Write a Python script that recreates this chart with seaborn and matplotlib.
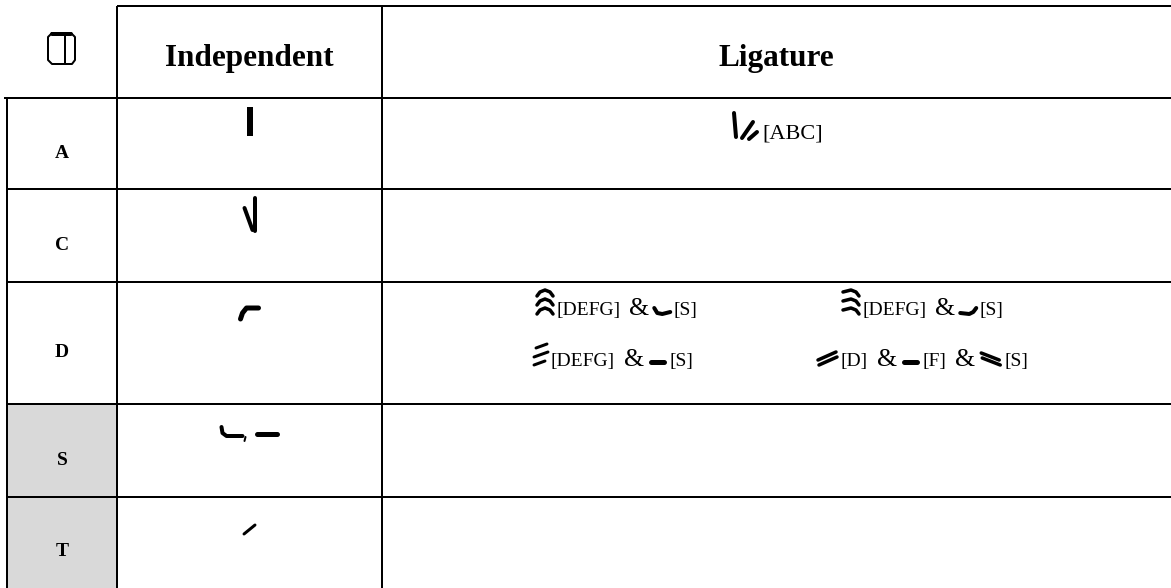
import matplotlib.pyplot as plt
import seaborn as sns

# ---- data -------------------------------------------------------------
HEADERS = ["Independent", "Ligature"]
ROW_LABELS = ["A", "C", "D", "S", "T"]
SHADED_ROWS = ["S", "T"]
INDEPENDENT = ["bar", "check", "hook", "curl_bar", "tick"]
LIGATURE_A = [("glyph", "vslash"), ("small_a", "[ABC]")]
LIGATURE_D = [
    [("glyph", "arcs3"), ("small", "[DEFG]"), ("amp", "&"), ("glyph", "smile"), ("small", "[S]")],
    [("glyph", "hooks3"), ("small", "[DEFG]"), ("amp", "&"), ("glyph", "rsmile"), ("small", "[S]")],
    [("glyph", "lines3"), ("small", "[DEFG]"), ("amp", "&"), ("glyph", "dash"), ("small", "[S]")],
    [("glyph", "dslash"), ("small", "[D]"), ("amp", "&"), ("glyph", "dash"), ("small", "[F]"),
     ("amp", "&"), ("glyph", "dbslash"), ("small", "[S]")],
]

# ---- layout (pixels) --------------------------------------------------
W, H = 1171, 588
COL_X = [7, 117, 382, W]
ROW_Y = [98, 189, 282, 404, 497, H]
TOP_Y = 6
LABEL_BASE = [158, 250, 357, 465, 556]
IND_BASE = [136, 231, 319, 437, 534]
D_RUNS = [(537, 315), (843, 315), (533, 366), (817, 366)]
A_RUN = (731, 139)
PX = 0.72  # points per pixel at dpi 100

# glyph outlines: width, [(points, stroke px, cap)]
GLYPHS = {
    "bar": (6, [([(3, -29), (3, 0)], 6, "butt")]),
    "check": (12, [([(11, -33), (11, 0)], 4, "round"), ([(1, -23), (9, -1)], 4, "round")]),
    "hook": (20, [([(1, 0), (3, -6), (7, -11), (19, -11)], 5, "round")]),
    "curl_bar": (58, [([(1, -10), (2, -4), (6, -1), (22, -1)], 4, "round"),
                      ([(25, 0), (24, 4)], 2, "round"),
                      ([(36, -3), (56, -3)], 5, "round")]),
    "tick": (13, [([(1, 0), (12, -9)], 3, "round")]),
    "vslash": (29, [([(3, -26), (5, -2)], 4, "round"),
                    ([(22, -17), (11, -1)], 4, "round"),
                    ([(26, -7), (18, 0)], 4, "round")]),
    "arcs3": (17, [([(0, dy + 3), (3, dy - 1), (8, dy - 3), (13, dy - 1), (16, dy + 3)], 3.5, "round")
                   for dy in (-22, -13, -4)]),
    "hooks3": (17, [([(0, dy - 1), (8, dy - 3), (13, dy - 1), (16, dy + 3)], 3.5, "round")
                    for dy in (-22, -13, -4)]),
    "smile": (17, [([(0, -7), (3, -2), (8, -1), (16, -3)], 4, "round")]),
    "rsmile": (17, [([(0, -2), (9, -1), (13, -3), (16, -7)], 4, "round")]),
    "lines3": (16, [([(3, -18), (14, -22)], 3, "round"),
                    ([(1, -9), (15, -14)], 3, "round"),
                    ([(1, -1), (12, -5)], 3, "round")]),
    "dash": (18, [([(2, -4), (15, -4)], 5, "round")]),
    "dslash": (22, [([(1, -6), (19, -14)], 3.5, "round"), ([(2, -1), (20, -9)], 3.5, "round")]),
    "dbslash": (22, [([(1, -13), (19, -6)], 3.5, "round"), ([(2, -8), (20, -1)], 3.5, "round")]),
}
TEXT_SIZE = {"small": 14, "small_a": 16, "amp": 18.5}
GAP_AFTER = {"glyph": 2, "small": 9, "small_a": 0, "amp": 5}


def draw_glyph(ax, name, x0, base):
    width, strokes = GLYPHS[name]
    for pts, lw, cap in strokes:
        ax.plot([x0 + p[0] for p in pts], [base + p[1] for p in pts], color="black",
                lw=lw * PX, solid_capstyle=cap, solid_joinstyle="round")
    return width


def draw_run(ax, renderer, items, x, base):
    for kind, value in items:
        if kind == "glyph":
            x += draw_glyph(ax, value, x, base)
        else:
            t = ax.text(x, base, value, fontsize=TEXT_SIZE[kind], ha="left", va="baseline")
            x += t.get_window_extent(renderer).width
        x += GAP_AFTER[kind]


sns.set_theme(style="white")
plt.rcParams["font.family"] = ["Liberation Serif", "DejaVu Serif"]
plt.rcParams["text.color"] = "black"

fig = plt.figure(figsize=(W / 100, H / 100), dpi=100)
ax = fig.add_axes([0, 0, 1, 1])
ax.set_xlim(0, W)
ax.set_ylim(H, 0)
ax.axis("off")
renderer = fig.canvas.get_renderer()

# shaded label cells
for i, label in enumerate(ROW_LABELS):
    if label in SHADED_ROWS:
        ax.fill_between([COL_X[0], COL_X[1]], ROW_Y[i], ROW_Y[i + 1], color="#d9d9d9", lw=0)

# grid lines
lw = 2 * PX
ax.hlines(TOP_Y, COL_X[1], W, color="black", lw=lw)
ax.hlines(ROW_Y[0], 4, W, color="black", lw=lw)
ax.hlines(ROW_Y[1:-1], COL_X[0], W, color="black", lw=lw)
ax.vlines(COL_X[0], ROW_Y[0], H, color="black", lw=lw)
ax.vlines(COL_X[1:3], TOP_Y, H, color="black", lw=lw)

# header
corner = [(52, 33), (71, 33), (75, 37), (75, 60), (72, 64), (52, 64), (48, 60), (48, 37), (52, 33)]
ax.plot([p[0] for p in corner], [p[1] for p in corner], color="black", lw=2 * PX)
ax.plot([52, 71], [34, 34], color="black", lw=4 * PX)
ax.plot([65, 65], [33, 64], color="black", lw=2 * PX)
for j, head in enumerate(HEADERS):
    ax.text((COL_X[j + 1] + COL_X[j + 2]) / 2, 66, head, fontsize=22.5, fontweight="bold",
            ha="center", va="baseline")

# rows
ind_cx = (COL_X[1] + COL_X[2]) / 2
for i, label in enumerate(ROW_LABELS):
    ax.text(62, LABEL_BASE[i], label, fontsize=14, fontweight="bold", ha="center", va="baseline")
    name = INDEPENDENT[i]
    draw_glyph(ax, name, ind_cx - GLYPHS[name][0] / 2, IND_BASE[i])

draw_run(ax, renderer, LIGATURE_A, *A_RUN)
for items, (x, base) in zip(LIGATURE_D, D_RUNS):
    draw_run(ax, renderer, items, x, base)

fig.savefig("out.png", dpi=100)
